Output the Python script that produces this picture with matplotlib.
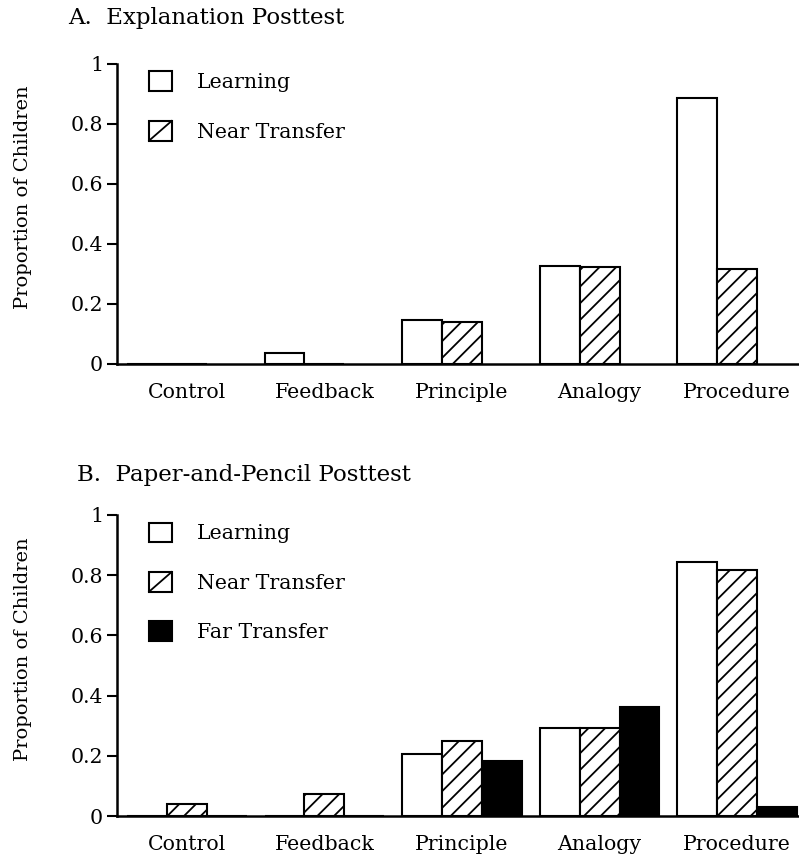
import matplotlib
matplotlib.use("Agg")
import matplotlib.pyplot as plt
from matplotlib.patches import Patch, Rectangle
from matplotlib.lines import Line2D
from matplotlib.legend_handler import HandlerBase
import numpy as np

plt.rcParams['font.family'] = ['DejaVu Serif']
plt.rcParams['hatch.linewidth'] = 1.3

conditions = ["Control", "Feedback", "Principle", "Analogy", "Procedure"]

# Panel A: explanation posttest
a_learning = [0.0, 0.035, 0.147, 0.328, 0.887]
a_near = [0.0, 0.0, 0.140, 0.322, 0.318]

# Panel B: paper-and-pencil posttest
b_learning = [0.0, 0.0, 0.205, 0.292, 0.845]
b_near = [0.04, 0.072, 0.250, 0.292, 0.817]
b_far = [0.0, 0.0, 0.182, 0.362, 0.030]

yticks = [0, 0.2, 0.4, 0.6, 0.8, 1]
ytick_labels = ["0", "0.2", "0.4", "0.6", "0.8", "1"]

FS = 14.8
W = 0.29
fig = plt.figure(figsize=(7.99, 8.58), dpi=100)

styles = [
    ("Learning", "white", None),
    ("Near Transfer", "white", "//"),
    ("Far Transfer", "black", None),
]


class BoxHandler(HandlerBase):
    # square legend key; hatched series get a single diagonal like the print
    def create_artists(self, legend, orig, xd, yd, width, height, fontsize, trans):
        box = Rectangle((-xd, -yd), width, height, facecolor=orig.get_facecolor(),
                        edgecolor="black", linewidth=1.5, transform=trans)
        arts = [box]
        if orig.get_hatch():
            arts.append(Line2D([-xd, -xd + width], [-yd, -yd + height],
                               color="black", linewidth=1.3, transform=trans))
        return arts


def panel(rect, series, title, title_x, title_y):
    ax = fig.add_axes(rect)
    x = np.arange(len(conditions))
    handles = []
    for j, vals in enumerate(series):
        label, fc, hatch = styles[j]
        ax.bar(x + (j - 1) * W, vals, W, color=fc, edgecolor="black",
               hatch=hatch, linewidth=1.5, zorder=2)
        handles.append(Patch(facecolor=fc, edgecolor="black", hatch=hatch, label=label))
    ax.set_xlim(-0.507, 4.449)
    ax.set_ylim(0, 1)
    ax.set_yticks(yticks)
    ax.set_yticklabels(ytick_labels, fontsize=FS)
    ax.set_xticks(x)
    ax.set_xticklabels(conditions, fontsize=FS)
    ax.tick_params(axis='x', length=0, pad=14)
    ax.tick_params(axis='y', length=7, width=1.5, pad=3)
    for s in ["top", "right"]:
        ax.spines[s].set_visible(False)
    for s in ["left", "bottom"]:
        ax.spines[s].set_linewidth(1.8)
        ax.spines[s].set_zorder(3)
    ax.set_ylabel("Proportion of Children", fontsize=14)
    ax.yaxis.set_label_coords(-0.125, 0.555)
    ax.legend(handles=handles, loc="upper left", bbox_to_anchor=(0.047, 0.975),
              frameon=False, fontsize=FS, handlelength=1.1, handleheight=1.1,
              handletextpad=1.25, labelspacing=1.39, borderpad=0, borderaxespad=0,
              handler_map={Patch: BoxHandler()})
    fig.text(title_x / 799, title_y, title, fontsize=16.5, va="center", ha="left")
    return ax


panel([117 / 799, (858 - 364) / 858, 1 - 117 / 799, 300 / 858],
      [a_learning, a_near], "A.  Explanation Posttest", 68, 1 - 18 / 858)
panel([117 / 799, (858 - 816) / 858, 1 - 117 / 799, 301 / 858],
      [b_learning, b_near, b_far], "B.  Paper-and-Pencil Posttest", 77, 1 - 475 / 858)

fig.savefig("out.png", dpi=100)
